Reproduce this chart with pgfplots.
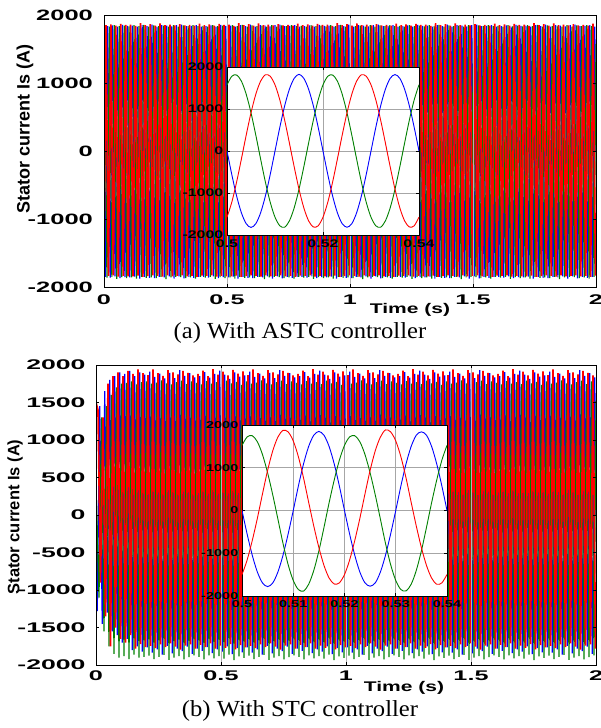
\documentclass[border=0pt]{standalone}
\usepackage{fontspec}
\setmainfont{Liberation Serif}
\newfontfamily\lsans{Liberation Sans}
\usepackage{pgfplots}
\pgfplotsset{compat=1.18}
\definecolor{mblue}{rgb}{0,0,1}
\definecolor{mgreen}{rgb}{0,0.5,0}
\definecolor{mred}{rgb}{1,0,0}
\newcommand{\ticka}{\lsans\bfseries\fontsize{15}{15}\selectfont}
\newcommand{\tickb}{\lsans\bfseries\fontsize{14}{14}\selectfont}
\newcommand{\ticki}{\lsans\bfseries\fontsize{11}{11}\selectfont}
\newcommand{\tickib}{\lsans\bfseries\fontsize{10}{10}\selectfont}
\pgfplotsset{
  mainax/.style={scale only axis, anchor=south west, xmin=0, xmax=2000, ymin=-2000, ymax=2000,
    xtick={0,500,1000,1500,2000}, xticklabels={0,0.5,1,1.5,2},
    axis on top, xmajorgrids, grid style={gray!60, line width=0.6pt},
    axis line style={line width=1pt}, major tick length=3pt, tick style={black, line width=0.6pt}},
  insetax/.style={scale only axis, anchor=south west, xmin=0.5, xmax=0.54, ymin=-2000, ymax=2000,
    ytick={-2000,-1000,0,1000,2000}, yticklabels={-2000,-1000,0,1000,2000},
    grid=major, grid style={gray!70, line width=0.6pt}, axis background/.style={fill=white},
    axis line style={line width=1pt}, major tick length=3pt, tick style={black, line width=0.6pt}},
}
\begin{document}
\begin{tikzpicture}
\path[use as bounding box] (0pt,0pt) rectangle (601pt,-728pt);
% ================= Panel (a) =================
\begin{axis}[mainax, at={(104pt,-287pt)}, width=492pt, height=272pt,
  ytick={-2000,-1000,0,1000,2000}, yticklabels={-2000,-1000,0,1000,2000},
  yticklabel style={font=\ticka, xscale=1.7, xshift=-3pt},
  xticklabel style={font=\tickb, xscale=1.8, yshift=-4pt}]
\addplot[mblue, line width=1.2pt] coordinates {(0,0)
(5,-1850)(15,1835)(25,-1862)(35,1848)(45,-1845)(55,1830)(65,-1870)(75,1855)(85,-1855)(95,1840)
(105,-1858)(115,1842)(125,-1846)(135,1828)(145,-1875)(155,1850)(165,-1850)(175,1838)(185,-1866)(195,1860)
(205,-1868)(215,1830)(225,-1852)(235,1852)(245,-1860)(255,1845)(265,-1845)(275,1832)(285,-1878)(295,1850)
(305,-1845)(315,1858)(325,-1872)(335,1836)(345,-1850)(355,1840)(365,-1864)(375,1850)(385,-1852)(395,1828)
(405,-1850)(415,1835)(425,-1862)(435,1848)(445,-1845)(455,1830)(465,-1870)(475,1855)(485,-1855)(495,1840)
(505,-1858)(515,1842)(525,-1846)(535,1828)(545,-1875)(555,1850)(565,-1850)(575,1838)(585,-1866)(595,1860)
(605,-1868)(615,1830)(625,-1852)(635,1852)(645,-1860)(655,1845)(665,-1845)(675,1832)(685,-1878)(695,1850)
(705,-1845)(715,1858)(725,-1872)(735,1836)(745,-1850)(755,1840)(765,-1864)(775,1850)(785,-1852)(795,1828)
(805,-1850)(815,1835)(825,-1862)(835,1848)(845,-1845)(855,1830)(865,-1870)(875,1855)(885,-1855)(895,1840)
(905,-1858)(915,1842)(925,-1846)(935,1828)(945,-1875)(955,1850)(965,-1850)(975,1838)(985,-1866)(995,1860)
(1005,-1868)(1015,1830)(1025,-1852)(1035,1852)(1045,-1860)(1055,1845)(1065,-1845)(1075,1832)(1085,-1878)(1095,1850)
(1105,-1845)(1115,1858)(1125,-1872)(1135,1836)(1145,-1850)(1155,1840)(1165,-1864)(1175,1850)(1185,-1852)(1195,1828)
(1205,-1850)(1215,1835)(1225,-1862)(1235,1848)(1245,-1845)(1255,1830)(1265,-1870)(1275,1855)(1285,-1855)(1295,1840)
(1305,-1858)(1315,1842)(1325,-1846)(1335,1828)(1345,-1875)(1355,1850)(1365,-1850)(1375,1838)(1385,-1866)(1395,1860)
(1405,-1868)(1415,1830)(1425,-1852)(1435,1852)(1445,-1860)(1455,1845)(1465,-1845)(1475,1832)(1485,-1878)(1495,1850)
(1505,-1845)(1515,1858)(1525,-1872)(1535,1836)(1545,-1850)(1555,1840)(1565,-1864)(1575,1850)(1585,-1852)(1595,1828)
(1605,-1850)(1615,1835)(1625,-1862)(1635,1848)(1645,-1845)(1655,1830)(1665,-1870)(1675,1855)(1685,-1855)(1695,1840)
(1705,-1858)(1715,1842)(1725,-1846)(1735,1828)(1745,-1875)(1755,1850)(1765,-1850)(1775,1838)(1785,-1866)(1795,1860)
(1805,-1868)(1815,1830)(1825,-1852)(1835,1852)(1845,-1860)(1855,1845)(1865,-1845)(1875,1832)(1885,-1878)(1895,1850)
(1905,-1845)(1915,1858)(1925,-1872)(1935,1836)(1945,-1850)(1955,1840)(1965,-1864)(1975,1850)(1985,-1852)(1995,1828)
(2000,0)};
\addplot[mgreen, line width=1.2pt] coordinates {(0,1576)
(2,1840)(12,-1862)(22,1828)(32,-1850)(42,1852)(52,-1880)(62,1835)(72,-1855)(82,1845)(92,-1868)
(102,1832)(112,-1858)(122,1850)(132,-1875)(142,1838)(152,-1850)(162,1856)(172,-1866)(182,1830)(192,-1860)
(202,1848)(212,-1870)(222,1836)(232,-1852)(242,1845)(252,-1885)(262,1830)(272,-1858)(282,1852)(292,-1850)
(302,1828)(312,-1855)(322,1846)(332,-1868)(342,1835)(352,-1860)(362,1850)(372,-1876)(382,1838)(392,-1852)
(402,1840)(412,-1862)(422,1828)(432,-1850)(442,1852)(452,-1880)(462,1835)(472,-1855)(482,1845)(492,-1868)
(502,1832)(512,-1858)(522,1850)(532,-1875)(542,1838)(552,-1850)(562,1856)(572,-1866)(582,1830)(592,-1860)
(602,1848)(612,-1870)(622,1836)(632,-1852)(642,1845)(652,-1885)(662,1830)(672,-1858)(682,1852)(692,-1850)
(702,1828)(712,-1855)(722,1846)(732,-1868)(742,1835)(752,-1860)(762,1850)(772,-1876)(782,1838)(792,-1852)
(802,1840)(812,-1862)(822,1828)(832,-1850)(842,1852)(852,-1880)(862,1835)(872,-1855)(882,1845)(892,-1868)
(902,1832)(912,-1858)(922,1850)(932,-1875)(942,1838)(952,-1850)(962,1856)(972,-1866)(982,1830)(992,-1860)
(1002,1848)(1012,-1870)(1022,1836)(1032,-1852)(1042,1845)(1052,-1885)(1062,1830)(1072,-1858)(1082,1852)(1092,-1850)
(1102,1828)(1112,-1855)(1122,1846)(1132,-1868)(1142,1835)(1152,-1860)(1162,1850)(1172,-1876)(1182,1838)(1192,-1852)
(1202,1840)(1212,-1862)(1222,1828)(1232,-1850)(1242,1852)(1252,-1880)(1262,1835)(1272,-1855)(1282,1845)(1292,-1868)
(1302,1832)(1312,-1858)(1322,1850)(1332,-1875)(1342,1838)(1352,-1850)(1362,1856)(1372,-1866)(1382,1830)(1392,-1860)
(1402,1848)(1412,-1870)(1422,1836)(1432,-1852)(1442,1845)(1452,-1885)(1462,1830)(1472,-1858)(1482,1852)(1492,-1850)
(1502,1828)(1512,-1855)(1522,1846)(1532,-1868)(1542,1835)(1552,-1860)(1562,1850)(1572,-1876)(1582,1838)(1592,-1852)
(1602,1840)(1612,-1862)(1622,1828)(1632,-1850)(1642,1852)(1652,-1880)(1662,1835)(1672,-1855)(1682,1845)(1692,-1868)
(1702,1832)(1712,-1858)(1722,1850)(1732,-1875)(1742,1838)(1752,-1850)(1762,1856)(1772,-1866)(1782,1830)(1792,-1860)
(1802,1848)(1812,-1870)(1822,1836)(1832,-1852)(1842,1845)(1852,-1885)(1862,1830)(1872,-1858)(1882,1852)(1892,-1850)
(1902,1828)(1912,-1855)(1922,1846)(1932,-1868)(1942,1835)(1952,-1860)(1962,1850)(1972,-1876)(1982,1838)(1992,-1852)
(2000,1576)};
\addplot[mred, line width=1.7pt] coordinates {(0,-1576)
(8,1850)(18,-1838)(28,1862)(38,-1830)(48,1845)(58,-1848)(68,1870)(78,-1835)(88,1855)(98,-1842)
(108,1858)(118,-1845)(128,1840)(138,-1832)(148,1880)(158,-1850)(168,1852)(178,-1840)(188,1866)(198,-1828)
(208,1845)(218,-1836)(228,1875)(238,-1848)(248,1850)(258,-1830)(268,1860)(278,-1845)(288,1848)(298,-1838)
(308,1866)(318,-1830)(328,1848)(338,-1842)(348,1856)(358,-1836)(368,1845)(378,-1850)(388,1872)(398,-1834)
(408,1850)(418,-1838)(428,1862)(438,-1830)(448,1845)(458,-1848)(468,1870)(478,-1835)(488,1855)(498,-1842)
(508,1858)(518,-1845)(528,1840)(538,-1832)(548,1880)(558,-1850)(568,1852)(578,-1840)(588,1866)(598,-1828)
(608,1845)(618,-1836)(628,1875)(638,-1848)(648,1850)(658,-1830)(668,1860)(678,-1845)(688,1848)(698,-1838)
(708,1866)(718,-1830)(728,1848)(738,-1842)(748,1856)(758,-1836)(768,1845)(778,-1850)(788,1872)(798,-1834)
(808,1850)(818,-1838)(828,1862)(838,-1830)(848,1845)(858,-1848)(868,1870)(878,-1835)(888,1855)(898,-1842)
(908,1858)(918,-1845)(928,1840)(938,-1832)(948,1880)(958,-1850)(968,1852)(978,-1840)(988,1866)(998,-1828)
(1008,1845)(1018,-1836)(1028,1875)(1038,-1848)(1048,1850)(1058,-1830)(1068,1860)(1078,-1845)(1088,1848)(1098,-1838)
(1108,1866)(1118,-1830)(1128,1848)(1138,-1842)(1148,1856)(1158,-1836)(1168,1845)(1178,-1850)(1188,1872)(1198,-1834)
(1208,1850)(1218,-1838)(1228,1862)(1238,-1830)(1248,1845)(1258,-1848)(1268,1870)(1278,-1835)(1288,1855)(1298,-1842)
(1308,1858)(1318,-1845)(1328,1840)(1338,-1832)(1348,1880)(1358,-1850)(1368,1852)(1378,-1840)(1388,1866)(1398,-1828)
(1408,1845)(1418,-1836)(1428,1875)(1438,-1848)(1448,1850)(1458,-1830)(1468,1860)(1478,-1845)(1488,1848)(1498,-1838)
(1508,1866)(1518,-1830)(1528,1848)(1538,-1842)(1548,1856)(1558,-1836)(1568,1845)(1578,-1850)(1588,1872)(1598,-1834)
(1608,1850)(1618,-1838)(1628,1862)(1638,-1830)(1648,1845)(1658,-1848)(1668,1870)(1678,-1835)(1688,1855)(1698,-1842)
(1708,1858)(1718,-1845)(1728,1840)(1738,-1832)(1748,1880)(1758,-1850)(1768,1852)(1778,-1840)(1788,1866)(1798,-1828)
(1808,1845)(1818,-1836)(1828,1875)(1838,-1848)(1848,1850)(1858,-1830)(1868,1860)(1878,-1845)(1888,1848)(1898,-1838)
(1908,1866)(1918,-1830)(1928,1848)(1938,-1842)(1948,1856)(1958,-1836)(1968,1845)(1978,-1850)(1988,1872)(1998,-1834)
(2000,-1576)};
\end{axis}
% inset (a)
\begin{axis}[insetax, at={(227pt,-235pt)}, width=192pt, height=168pt,
  xtick={0.5,0.52,0.54}, xticklabels={0.5,0.52,0.54},
  yticklabel style={font=\ticki, xscale=1.45, xshift=1pt},
  xticklabel style={font=\ticki, xscale=1.45, yshift=-1pt}]
\addplot[mblue, line width=0.9pt, smooth] coordinates {
(0.500,0)(0.501,-562)(0.502,-1070)(0.503,-1472)(0.504,-1731)(0.505,-1820)(0.506,-1731)(0.507,-1472)(0.508,-1070)(0.509,-562)
(0.510,0)(0.511,562)(0.512,1070)(0.513,1472)(0.514,1731)(0.515,1825)(0.516,1731)(0.517,1472)(0.518,1070)(0.519,562)
(0.520,0)(0.521,-562)(0.522,-1070)(0.523,-1472)(0.524,-1731)(0.525,-1815)(0.526,-1731)(0.527,-1472)(0.528,-1070)(0.529,-562)
(0.530,0)(0.531,562)(0.532,1070)(0.533,1472)(0.534,1731)(0.535,1820)(0.536,1731)(0.537,1472)(0.538,1070)(0.539,562)(0.540,0)};
\addplot[mgreen, line width=0.9pt, smooth] coordinates {
(0.500,1576)(0.501,1780)(0.502,1810)(0.503,1663)(0.504,1352)(0.505,910)(0.506,378)(0.507,-190)(0.508,-740)(0.509,-1218)
(0.510,-1576)(0.511,-1780)(0.512,-1815)(0.513,-1663)(0.514,-1352)(0.515,-910)(0.516,-378)(0.517,190)(0.518,740)(0.519,1218)
(0.520,1576)(0.521,1780)(0.522,1810)(0.523,1663)(0.524,1352)(0.525,910)(0.526,378)(0.527,-190)(0.528,-740)(0.529,-1218)
(0.530,-1576)(0.531,-1780)(0.532,-1815)(0.533,-1663)(0.534,-1352)(0.535,-910)(0.536,-378)(0.537,190)(0.538,740)(0.539,1218)(0.540,1576)};
\addplot[mred, line width=0.9pt, smooth] coordinates {
(0.500,-1576)(0.501,-1218)(0.502,-740)(0.503,-190)(0.504,378)(0.505,910)(0.506,1352)(0.507,1663)(0.508,1815)(0.509,1780)
(0.510,1576)(0.511,1218)(0.512,740)(0.513,190)(0.514,-378)(0.515,-910)(0.516,-1352)(0.517,-1663)(0.518,-1810)(0.519,-1780)
(0.520,-1576)(0.521,-1218)(0.522,-740)(0.523,-190)(0.524,378)(0.525,910)(0.526,1352)(0.527,1663)(0.528,1815)(0.529,1780)
(0.530,1576)(0.531,1218)(0.532,740)(0.533,190)(0.534,-378)(0.535,-910)(0.536,-1352)(0.537,-1663)(0.538,-1810)(0.539,-1780)(0.540,-1576)};
\end{axis}
% ================= Panel (b) =================
\begin{axis}[mainax, at={(96pt,-665pt)}, width=500pt, height=300pt,
  ytick={-2000,-1500,-1000,-500,0,500,1000,1500,2000}, yticklabels={-2000,-1500,-1000,-500,0,500,1000,1500,2000},
  yticklabel style={font=\tickb, xscale=1.9, xshift=-2pt},
  xticklabel style={font=\tickb, xscale=1.8, yshift=-2pt}]
\addplot[mblue, line width=1.2pt] coordinates {
(0,0)(5,-1280)(15,1450)(25,-1450)(35,1650)(45,-1300)(55,1800)(65,-1550)(75,1850)(85,-1600)(95,1900)
(105,-1700)(115,1880)(125,-1650)(135,1920)(145,-1800)(155,1850)(165,-1750)(175,1900)(185,-1820)(195,1870)
(205,-1765)(215,1910)(225,-1835)(235,1840)(245,-1790)(255,1885)(265,-1860)(275,1820)(285,-1745)(295,1895)
(305,-1845)(315,1825)(325,-1780)(335,1930)(345,-1815)(355,1855)(365,-1755)(375,1890)(385,-1850)(395,1835)
(405,-1780)(415,1850)(425,-1810)(435,1905)(445,-1760)(455,1830)(465,-1840)(475,1880)(485,-1790)(495,1925)
(505,-1820)(515,1870)(525,-1750)(535,1815)(545,-1855)(555,1900)(565,-1775)(575,1845)(585,-1830)(595,1860)
(605,-1765)(615,1910)(625,-1835)(635,1840)(645,-1790)(655,1885)(665,-1860)(675,1820)(685,-1745)(695,1895)
(705,-1845)(715,1825)(725,-1780)(735,1930)(745,-1815)(755,1855)(765,-1755)(775,1890)(785,-1850)(795,1835)
(805,-1780)(815,1850)(825,-1810)(835,1905)(845,-1760)(855,1830)(865,-1840)(875,1880)(885,-1790)(895,1925)
(905,-1820)(915,1870)(925,-1750)(935,1815)(945,-1855)(955,1900)(965,-1775)(975,1845)(985,-1830)(995,1860)
(1005,-1765)(1015,1910)(1025,-1835)(1035,1840)(1045,-1790)(1055,1885)(1065,-1860)(1075,1820)(1085,-1745)(1095,1895)
(1105,-1845)(1115,1825)(1125,-1780)(1135,1930)(1145,-1815)(1155,1855)(1165,-1755)(1175,1890)(1185,-1850)(1195,1835)
(1205,-1780)(1215,1850)(1225,-1810)(1235,1905)(1245,-1760)(1255,1830)(1265,-1840)(1275,1880)(1285,-1790)(1295,1925)
(1305,-1820)(1315,1870)(1325,-1750)(1335,1815)(1345,-1855)(1355,1900)(1365,-1775)(1375,1845)(1385,-1830)(1395,1860)
(1405,-1765)(1415,1910)(1425,-1835)(1435,1840)(1445,-1790)(1455,1885)(1465,-1860)(1475,1820)(1485,-1745)(1495,1895)
(1505,-1845)(1515,1825)(1525,-1780)(1535,1930)(1545,-1815)(1555,1855)(1565,-1755)(1575,1890)(1585,-1850)(1595,1835)
(1605,-1780)(1615,1850)(1625,-1810)(1635,1905)(1645,-1760)(1655,1830)(1665,-1840)(1675,1880)(1685,-1790)(1695,1925)
(1705,-1820)(1715,1870)(1725,-1750)(1735,1815)(1745,-1855)(1755,1900)(1765,-1775)(1775,1845)(1785,-1830)(1795,1860)
(1805,-1765)(1815,1910)(1825,-1835)(1835,1840)(1845,-1790)(1855,1885)(1865,-1860)(1875,1820)(1885,-1745)(1895,1895)
(1905,-1845)(1915,1825)(1925,-1780)(1935,1930)(1945,-1815)(1955,1855)(1965,-1755)(1975,1890)(1985,-1850)(1995,1835)
(2000,0)};
\addplot[mgreen, line width=1.2pt] coordinates {
(0,-300)(2,200)(12,-1100)(22,1300)(32,-1550)(42,1450)(52,-1750)(62,1600)(72,-1850)(82,1700)(92,-1900)
(102,1750)(112,-1880)(122,1760)(132,-1920)(142,1780)(152,-1860)(162,1740)(172,-1900)(182,1770)(192,-1890)
(202,1780)(212,-1875)(222,1750)(232,-1920)(242,1765)(252,-1890)(262,1795)(272,-1865)(282,1755)(292,-1930)
(302,1740)(312,-1900)(322,1770)(332,-1880)(342,1790)(352,-1925)(362,1745)(372,-1895)(382,1780)(392,-1870)
(402,1760)(412,-1890)(422,1740)(432,-1925)(442,1785)(452,-1870)(462,1750)(472,-1910)(482,1770)(492,-1880)
(502,1745)(512,-1915)(522,1790)(532,-1860)(542,1755)(552,-1935)(562,1775)(572,-1885)(582,1735)(592,-1905)
(602,1780)(612,-1875)(622,1750)(632,-1920)(642,1765)(652,-1890)(662,1795)(672,-1865)(682,1755)(692,-1930)
(702,1740)(712,-1900)(722,1770)(732,-1880)(742,1790)(752,-1925)(762,1745)(772,-1895)(782,1780)(792,-1870)
(802,1760)(812,-1890)(822,1740)(832,-1925)(842,1785)(852,-1870)(862,1750)(872,-1910)(882,1770)(892,-1880)
(902,1745)(912,-1915)(922,1790)(932,-1860)(942,1755)(952,-1935)(962,1775)(972,-1885)(982,1735)(992,-1905)
(1002,1780)(1012,-1875)(1022,1750)(1032,-1920)(1042,1765)(1052,-1890)(1062,1795)(1072,-1865)(1082,1755)(1092,-1930)
(1102,1740)(1112,-1900)(1122,1770)(1132,-1880)(1142,1790)(1152,-1925)(1162,1745)(1172,-1895)(1182,1780)(1192,-1870)
(1202,1760)(1212,-1890)(1222,1740)(1232,-1925)(1242,1785)(1252,-1870)(1262,1750)(1272,-1910)(1282,1770)(1292,-1880)
(1302,1745)(1312,-1915)(1322,1790)(1332,-1860)(1342,1755)(1352,-1935)(1362,1775)(1372,-1885)(1382,1735)(1392,-1905)
(1402,1780)(1412,-1875)(1422,1750)(1432,-1920)(1442,1765)(1452,-1890)(1462,1795)(1472,-1865)(1482,1755)(1492,-1930)
(1502,1740)(1512,-1900)(1522,1770)(1532,-1880)(1542,1790)(1552,-1925)(1562,1745)(1572,-1895)(1582,1780)(1592,-1870)
(1602,1760)(1612,-1890)(1622,1740)(1632,-1925)(1642,1785)(1652,-1870)(1662,1750)(1672,-1910)(1682,1770)(1692,-1880)
(1702,1745)(1712,-1915)(1722,1790)(1732,-1860)(1742,1755)(1752,-1935)(1762,1775)(1772,-1885)(1782,1735)(1792,-1905)
(1802,1780)(1812,-1875)(1822,1750)(1832,-1920)(1842,1765)(1852,-1890)(1862,1795)(1872,-1865)(1882,1755)(1892,-1930)
(1902,1740)(1912,-1900)(1922,1770)(1932,-1880)(1942,1790)(1952,-1925)(1962,1745)(1972,-1895)(1982,1780)(1992,-1870)
(2000,1524)};
\addplot[mred, line width=1.7pt] coordinates {
(0,1500)(8,1400)(18,-900)(28,1300)(38,-1350)(48,1750)(58,-1750)(68,1850)(78,-1500)(88,1900)(98,-1650)
(108,1850)(118,-1700)(128,1920)(138,-1600)(148,1880)(158,-1780)(168,1940)(178,-1720)(188,1890)(198,-1760)
(208,1865)(218,-1745)(228,1940)(238,-1775)(248,1890)(258,-1725)(268,1855)(278,-1760)(288,1930)(298,-1710)
(308,1900)(318,-1755)(328,1875)(338,-1795)(348,1920)(358,-1740)(368,1895)(378,-1725)(388,1860)(398,-1780)
(408,1880)(418,-1730)(428,1925)(438,-1760)(448,1850)(458,-1710)(468,1945)(478,-1780)(488,1870)(498,-1740)
(508,1910)(518,-1770)(528,1860)(538,-1720)(548,1935)(558,-1790)(568,1885)(578,-1735)(588,1915)(598,-1765)
(608,1865)(618,-1745)(628,1940)(638,-1775)(648,1890)(658,-1725)(668,1855)(678,-1760)(688,1930)(698,-1710)
(708,1900)(718,-1755)(728,1875)(738,-1795)(748,1920)(758,-1740)(768,1895)(778,-1725)(788,1860)(798,-1780)
(808,1880)(818,-1730)(828,1925)(838,-1760)(848,1850)(858,-1710)(868,1945)(878,-1780)(888,1870)(898,-1740)
(908,1910)(918,-1770)(928,1860)(938,-1720)(948,1935)(958,-1790)(968,1885)(978,-1735)(988,1915)(998,-1765)
(1008,1865)(1018,-1745)(1028,1940)(1038,-1775)(1048,1890)(1058,-1725)(1068,1855)(1078,-1760)(1088,1930)(1098,-1710)
(1108,1900)(1118,-1755)(1128,1875)(1138,-1795)(1148,1920)(1158,-1740)(1168,1895)(1178,-1725)(1188,1860)(1198,-1780)
(1208,1880)(1218,-1730)(1228,1925)(1238,-1760)(1248,1850)(1258,-1710)(1268,1945)(1278,-1780)(1288,1870)(1298,-1740)
(1308,1910)(1318,-1770)(1328,1860)(1338,-1720)(1348,1935)(1358,-1790)(1368,1885)(1378,-1735)(1388,1915)(1398,-1765)
(1408,1865)(1418,-1745)(1428,1940)(1438,-1775)(1448,1890)(1458,-1725)(1468,1855)(1478,-1760)(1488,1930)(1498,-1710)
(1508,1900)(1518,-1755)(1528,1875)(1538,-1795)(1548,1920)(1558,-1740)(1568,1895)(1578,-1725)(1588,1860)(1598,-1780)
(1608,1880)(1618,-1730)(1628,1925)(1638,-1760)(1648,1850)(1658,-1710)(1668,1945)(1678,-1780)(1688,1870)(1698,-1740)
(1708,1910)(1718,-1770)(1728,1860)(1738,-1720)(1748,1935)(1758,-1790)(1768,1885)(1778,-1735)(1788,1915)(1798,-1765)
(1808,1865)(1818,-1745)(1828,1940)(1838,-1775)(1848,1890)(1858,-1725)(1868,1855)(1878,-1760)(1888,1930)(1898,-1710)
(1908,1900)(1918,-1755)(1928,1875)(1938,-1795)(1948,1920)(1958,-1740)(1968,1895)(1978,-1725)(1988,1860)(1998,-1780)
(2000,-1498)};
\end{axis}
% inset (b)
\begin{axis}[insetax, at={(242pt,-596pt)}, width=205pt, height=171pt,
  xtick={0.5,0.51,0.52,0.53,0.54}, xticklabels={0.5,0.51,0.52,0.53,0.54},
  yticklabel style={font=\tickib, xscale=1.45, xshift=1pt},
  xticklabel style={font=\tickib, xscale=1.45, yshift=-1pt}]
\addplot[mblue, line width=0.9pt, smooth] coordinates {
(0.500,0)(0.501,-550)(0.502,-1046)(0.503,-1440)(0.504,-1693)(0.505,-1780)(0.506,-1693)(0.507,-1440)(0.508,-1046)(0.509,-550)
(0.510,0)(0.511,572)(0.512,1087)(0.513,1497)(0.514,1760)(0.515,1850)(0.516,1760)(0.517,1497)(0.518,1087)(0.519,572)
(0.520,0)(0.521,-550)(0.522,-1046)(0.523,-1440)(0.524,-1693)(0.525,-1770)(0.526,-1693)(0.527,-1440)(0.528,-1046)(0.529,-550)
(0.530,0)(0.531,572)(0.532,1087)(0.533,1497)(0.534,1760)(0.535,1840)(0.536,1760)(0.537,1497)(0.538,1087)(0.539,572)(0.540,0)};
\addplot[mgreen, line width=0.9pt, smooth] coordinates {
(0.500,1524)(0.501,1721)(0.502,1750)(0.503,1608)(0.504,1308)(0.505,880)(0.506,366)(0.507,-198)(0.508,-769)(0.509,-1265)
(0.510,-1637)(0.511,-1849)(0.512,-1885)(0.513,-1727)(0.514,-1404)(0.515,-945)(0.516,-393)(0.517,184)(0.518,716)(0.519,1178)
(0.520,1524)(0.521,1721)(0.522,1750)(0.523,1608)(0.524,1308)(0.525,880)(0.526,366)(0.527,-198)(0.528,-769)(0.529,-1265)
(0.530,-1637)(0.531,-1849)(0.532,-1880)(0.533,-1727)(0.534,-1404)(0.535,-945)(0.536,-393)(0.537,184)(0.538,716)(0.539,1178)(0.540,1524)};
\addplot[mred, line width=0.9pt, smooth] coordinates {
(0.500,-1498)(0.501,-1158)(0.502,-704)(0.503,-181)(0.504,391)(0.505,940)(0.506,1397)(0.507,1717)(0.508,1875)(0.509,1839)
(0.510,1628)(0.511,1258)(0.512,765)(0.513,196)(0.514,-360)(0.515,-865)(0.516,-1286)(0.517,-1580)(0.518,-1720)(0.519,-1692)
(0.520,-1498)(0.521,-1158)(0.522,-704)(0.523,-181)(0.524,391)(0.525,940)(0.526,1397)(0.527,1717)(0.528,1885)(0.529,1839)
(0.530,1628)(0.531,1258)(0.532,765)(0.533,196)(0.534,-360)(0.535,-865)(0.536,-1286)(0.537,-1580)(0.538,-1725)(0.539,-1692)(0.540,-1498)};
\end{axis}
% labels
\node[rotate=90, font=\lsans\bfseries\fontsize{18}{18}\selectfont] at (25pt,-129pt) {Stator current Is (A)};
\node[rotate=90, font=\lsans\bfseries\fontsize{16.5}{16.5}\selectfont] at (15pt,-517pt) {Stator current Is (A)};
\node[font=\lsans\bfseries\fontsize{14}{14}\selectfont, xscale=1.5] at (410pt,-310pt) {Time (s)};
\node[font=\lsans\bfseries\fontsize{14}{14}\selectfont, xscale=1.5] at (404pt,-688pt) {Time (s)};
\node[font=\fontsize{23}{23}\selectfont, xscale=1.07] at (300pt,-333pt) {(a) With ASTC controller};
\node[font=\fontsize{23}{23}\selectfont, xscale=1.07] at (300pt,-711pt) {(b) With STC controller};
\end{tikzpicture}
\end{document}
